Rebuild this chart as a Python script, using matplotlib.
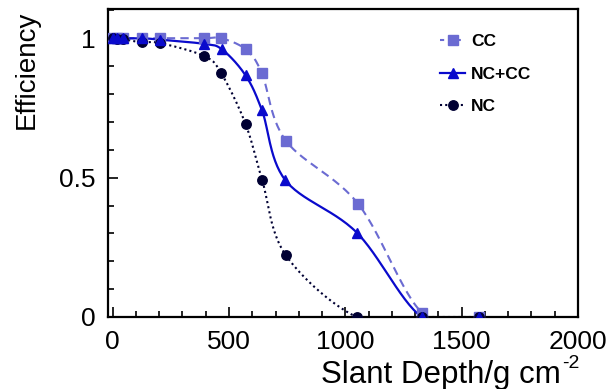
import numpy as np
import matplotlib
matplotlib.use("Agg")
import matplotlib.pyplot as plt
from matplotlib.ticker import MultipleLocator

plt.rcParams['font.family'] = ['Liberation Sans', 'DejaVu Sans']
plt.rcParams['mathtext.default'] = 'regular'

# ---- data ----
cc_x = [0, 20, 45, 127, 204, 392, 467, 572, 641, 744, 1055, 1330, 1576]
cc_y = [1.0, 1.0, 1.0, 1.0, 1.0, 1.0, 1.0, 0.96, 0.875, 0.633, 0.406, 0.015, 0.0]

nccc_x = [0, 20, 45, 127, 204, 392, 470, 571, 642, 742, 1049, 1329, 1575]
nccc_y = [1.0, 1.0, 1.0, 1.0, 0.995, 0.98, 0.96, 0.867, 0.741, 0.491, 0.303, 0.0, 0.0]

nc_x = [0, 20, 45, 125, 203, 394, 467, 571, 642, 743, 1049, 1328, 1575]
nc_y = [1.0, 0.998, 0.997, 0.985, 0.983, 0.936, 0.874, 0.693, 0.493, 0.223, 0.0, 0.0, 0.0]

labels = ["CC", "NC+CC", "NC"]

XMIN, XMAX, YMIN, YMAX = -20, 2000, 0, 1.105
SX, SY = 465 / 2000.0, 278 / 1.0  # pixel scale for smoothing


def smooth(xs, ys, n=30):
    p = np.column_stack([np.asarray(xs, float) * SX, np.asarray(ys, float) * SY])
    pts = np.vstack([p[0] - (p[1] - p[0]), p, p[-1] + (p[-1] - p[-2])])
    out = []
    for i in range(1, len(pts) - 2):
        p0, p1, p2, p3 = pts[i - 1], pts[i], pts[i + 1], pts[i + 2]
        t = np.linspace(0, 1, n)[:, None]
        m1 = (p2 - p0) / 2
        m2 = (p3 - p1) / 2
        h00 = 2 * t**3 - 3 * t**2 + 1
        h10 = t**3 - 2 * t**2 + t
        h01 = -2 * t**3 + 3 * t**2
        h11 = t**3 - t**2
        seg = h00 * p1 + h10 * m1 + h01 * p2 + h11 * m2
        out.append(seg)
    c = np.vstack(out)
    return c[:, 0] / SX, c[:, 1] / SY


fig = plt.figure(figsize=(6.16, 3.89), dpi=100)
ax = fig.add_axes([108 / 616, 1 - 317 / 389, 470 / 616, 308 / 389])

col_cc = '#6b6bd2'
col_nccc = '#0a0acc'
col_nc = '#000033'

sx, sy = smooth(cc_x, cc_y)
ax.plot(sx, sy, color=col_cc, lw=1.5, dashes=(4, 2.5), zorder=2)
sx, sy = smooth(nc_x, nc_y)
ax.plot(sx, sy, color=col_nc, lw=1.5, ls=(0, (1, 1.5)), zorder=2)
sx, sy = smooth(nccc_x, nccc_y)
ax.plot(sx, sy, color=col_nccc, lw=1.6, zorder=2)

ax.plot(cc_x, cc_y, ls='none', marker='s', ms=7.5, color=col_cc, zorder=3)
ax.plot(nc_x, nc_y, ls='none', marker='o', ms=6.8, color=col_nc, zorder=4)
ax.plot(nccc_x, nccc_y, ls='none', marker='^', ms=7.5, color=col_nccc, zorder=5)

# legend handles
h1, = ax.plot([], [], color=col_cc, lw=1.5, dashes=(2, 2), marker='s', ms=7.5)
h2, = ax.plot([], [], color=col_nccc, lw=1.6, marker='^', ms=7.5)
h3, = ax.plot([], [], color=col_nc, lw=1.5, ls=(0, (1, 1.5)), marker='o', ms=6.8)
leg = fig.legend([h1, h2, h3], labels, loc='upper left',
                 bbox_to_anchor=(440 / 616, 1 - 34 / 389), frameon=False,
                 prop={'weight': 'bold', 'size': 12.5}, handlelength=1.45,
                 handletextpad=0.35, labelspacing=1.0, borderpad=0, borderaxespad=0)

ax.set_xlim(XMIN, XMAX)
ax.set_ylim(YMIN, YMAX)
ax.xaxis.set_major_locator(MultipleLocator(500))
ax.xaxis.set_minor_locator(MultipleLocator(100))
ax.yaxis.set_minor_locator(MultipleLocator(0.1))
ax.set_yticks([0, 0.5, 1])
ax.set_yticklabels(['0', '0.5', '1'])
ax.tick_params(which='both', direction='in', top=False, right=False, width=1.2, labelsize=19)
ax.tick_params(which='major', length=7)
ax.tick_params(which='minor', length=4)
ax.tick_params(axis='x', pad=9.5)
ax.tick_params(axis='y', pad=9)
for s in ax.spines.values():
    s.set_linewidth(1.6)

fig.text(561 / 616, 6 / 389, 'Slant Depth/g cm', ha='right', va='baseline', fontsize=22.5)
fig.text(562 / 616, 1 - 368 / 389, '-2', ha='left', va='baseline', fontsize=14)
fig.text(14 / 616, 1 - 11 / 389, 'Efficiency', ha='right', va='top', rotation=90,
         fontsize=20, rotation_mode='anchor')

fig.savefig('out.png', dpi=100)
